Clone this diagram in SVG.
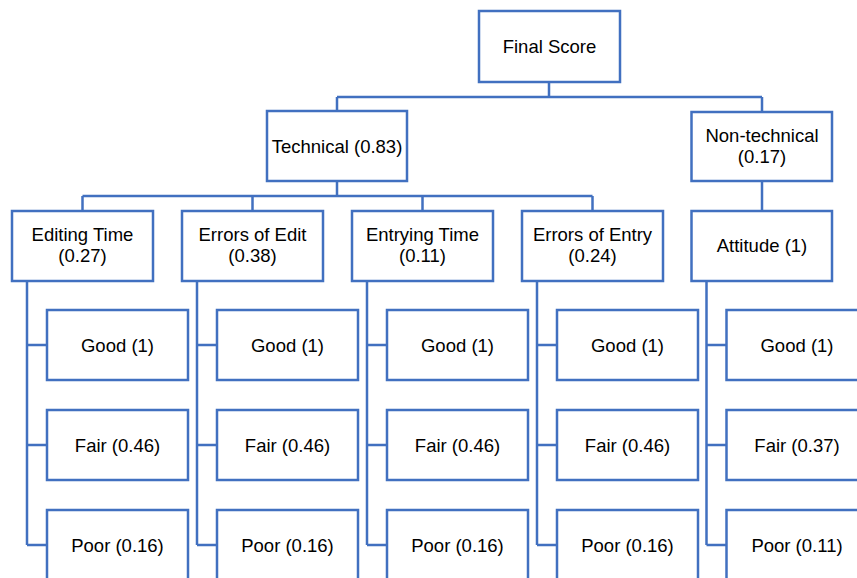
<svg xmlns="http://www.w3.org/2000/svg" width="857" height="578" viewBox="0 0 857 578">
  <style>
    .box { fill: #ffffff; stroke: #4170C0; stroke-width: 2.5; }
    .wire { fill: none; stroke: #4170C0; stroke-width: 2.5; }
    text { font-family: "Liberation Sans", Arial, sans-serif; font-size: 18.5px; fill: #000000; text-anchor: middle; }
  </style>
  <rect width="857" height="578" fill="#ffffff"/>

  <!-- connectors -->
  <g id="connectors" class="wire">
    <path d="M549 82 V97 M337 97 H762 M337 97 V111 M762 97 V112"/>
    <path d="M337 181 V196 M82.5 196 H592.5 M82.5 196 V211 M252.5 196 V211 M422.5 196 V211 M592.5 196 V211"/>
    <path d="M762 181 V211"/>
    <path d="M27 281 V545 M27 345 H47 M27 445 H47 M27 545 H47"/>
    <path d="M197 281 V545 M197 345 H217 M197 445 H217 M197 545 H217"/>
    <path d="M367 281 V545 M367 345 H387 M367 445 H387 M367 545 H387"/>
    <path d="M537 281 V545 M537 345 H557 M537 445 H557 M537 545 H557"/>
    <path d="M706.5 281 V545 M706.5 345 H726.5 M706.5 445 H726.5 M706.5 545 H726.5"/>
  </g>

  <!-- root -->
  <g id="final-score">
    <rect class="box" x="479" y="11" width="141" height="71"/>
    <text x="549.5" y="53">Final Score</text>
  </g>

  <!-- second level -->
  <g id="technical">
    <rect class="box" x="267" y="111" width="140" height="70"/>
    <text x="337" y="152.5">Technical (0.83)</text>
  </g>
  <g id="non-technical">
    <rect class="box" x="691.5" y="112" width="140.5" height="69"/>
    <text x="762" y="141.5">Non-technical</text>
    <text x="762" y="162.5">(0.17)</text>
  </g>

  <!-- criteria -->
  <g id="editing-time">
    <rect class="box" x="12" y="211" width="141" height="70"/>
    <text x="82.5" y="240.5">Editing Time</text>
    <text x="82.5" y="261.5">(0.27)</text>
  </g>
  <g id="errors-of-edit">
    <rect class="box" x="182" y="211" width="141" height="70"/>
    <text x="252.5" y="240.5">Errors of Edit</text>
    <text x="252.5" y="261.5">(0.38)</text>
  </g>
  <g id="entrying-time">
    <rect class="box" x="352" y="211" width="141" height="70"/>
    <text x="422.5" y="240.5">Entrying Time</text>
    <text x="422.5" y="261.5">(0.11)</text>
  </g>
  <g id="errors-of-entry">
    <rect class="box" x="522" y="211" width="141" height="70"/>
    <text x="592.5" y="240.5">Errors of Entry</text>
    <text x="592.5" y="261.5">(0.24)</text>
  </g>
  <g id="attitude">
    <rect class="box" x="691.5" y="211" width="140.5" height="70"/>
    <text x="762" y="251.5">Attitude (1)</text>
  </g>

  <!-- grades: editing time -->
  <g id="et-good"><rect class="box" x="47" y="310" width="141" height="70"/><text x="117.5" y="351.5">Good (1)</text></g>
  <g id="et-fair"><rect class="box" x="47" y="410" width="141" height="70"/><text x="117.5" y="451.5">Fair (0.46)</text></g>
  <g id="et-poor"><rect class="box" x="47" y="510" width="141" height="80"/><text x="117.5" y="551.5">Poor (0.16)</text></g>

  <!-- grades: errors of edit -->
  <g id="ee-good"><rect class="box" x="217" y="310" width="141" height="70"/><text x="287.5" y="351.5">Good (1)</text></g>
  <g id="ee-fair"><rect class="box" x="217" y="410" width="141" height="70"/><text x="287.5" y="451.5">Fair (0.46)</text></g>
  <g id="ee-poor"><rect class="box" x="217" y="510" width="141" height="80"/><text x="287.5" y="551.5">Poor (0.16)</text></g>

  <!-- grades: entrying time -->
  <g id="nt-good"><rect class="box" x="387" y="310" width="141" height="70"/><text x="457.5" y="351.5">Good (1)</text></g>
  <g id="nt-fair"><rect class="box" x="387" y="410" width="141" height="70"/><text x="457.5" y="451.5">Fair (0.46)</text></g>
  <g id="nt-poor"><rect class="box" x="387" y="510" width="141" height="80"/><text x="457.5" y="551.5">Poor (0.16)</text></g>

  <!-- grades: errors of entry -->
  <g id="en-good"><rect class="box" x="557" y="310" width="141" height="70"/><text x="627.5" y="351.5">Good (1)</text></g>
  <g id="en-fair"><rect class="box" x="557" y="410" width="141" height="70"/><text x="627.5" y="451.5">Fair (0.46)</text></g>
  <g id="en-poor"><rect class="box" x="557" y="510" width="141" height="80"/><text x="627.5" y="551.5">Poor (0.16)</text></g>

  <!-- grades: attitude -->
  <g id="at-good"><rect class="box" x="726.5" y="310" width="141" height="70"/><text x="797" y="351.5">Good (1)</text></g>
  <g id="at-fair"><rect class="box" x="726.5" y="410" width="141" height="70"/><text x="797" y="451.5">Fair (0.37)</text></g>
  <g id="at-poor"><rect class="box" x="726.5" y="510" width="141" height="80"/><text x="797" y="551.5">Poor (0.11)</text></g>
</svg>
